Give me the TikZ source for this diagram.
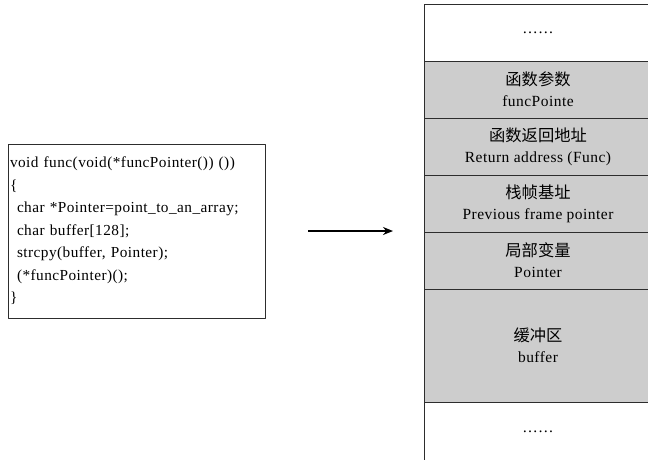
\documentclass[tikz,border=0pt]{standalone}
\usepackage{fontspec}
\setmainfont[LetterSpace=3]{Liberation Serif}
\newfontfamily\cjk[Scale=1.05]{Noto Sans CJK SC}
\usetikzlibrary{arrows.meta}
\definecolor{stackgray}{RGB}{205,205,205}
\definecolor{linegray}{RGB}{45,45,45}
\tikzset{
  cell/.style={draw=linegray, line width=0.9pt, minimum width=228pt, align=center, inner sep=0pt, font=\fontsize{15.5}{21}\selectfont},
  codebox/.style={draw=linegray, line width=0.9pt, minimum width=257pt, minimum height=174pt, text width=253pt, inner xsep=2pt, align=left, font=\fontsize{15.3}{22.5}\selectfont}
}
\begin{document}
\begin{tikzpicture}[x=1pt,y=-1pt,line join=round,>={Stealth[length=10pt,width=8pt]}]
  \useasboundingbox (0,0) rectangle (648,459);
  % code of the function
  \node[codebox] (code) at (136.5,231) {void func(void(*funcPointer()) ())\\
    \{\\
    \hspace{7pt}char *Pointer=point\_to\_an\_array;\\
    \hspace{7pt}char buffer[128];\\
    \hspace{7pt}strcpy(buffer, Pointer);\\
    \hspace{7pt}(*funcPointer)();\\
    \}};
  % stack frame
  \foreach \n/\t/\b/\f/\txt in {
      top/4/61/white/{……},
      arg/61/118/stackgray/{{\cjk 函数参数}\\funcPointe},
      ret/118/175/stackgray/{{\cjk 函数返回地址}\\Return address (Func)},
      ebp/175/232/stackgray/{{\cjk 栈帧基址}\\Previous frame pointer},
      loc/232/289/stackgray/{{\cjk 局部变量}\\Pointer},
      buf/289/402/stackgray/{{\cjk 缓冲区}\\buffer},
      bot/402/462/white/{……}}
    \node[cell, fill=\f, minimum height={(\b-\t)*1pt}] (\n) at (538,{(\t+\b)/2}) {\txt};
  \coordinate (from) at (308,231);
  \coordinate (to) at (393,231);
  \draw[->, line width=2.2pt] (from) -- (to);
\end{tikzpicture}
\end{document}
